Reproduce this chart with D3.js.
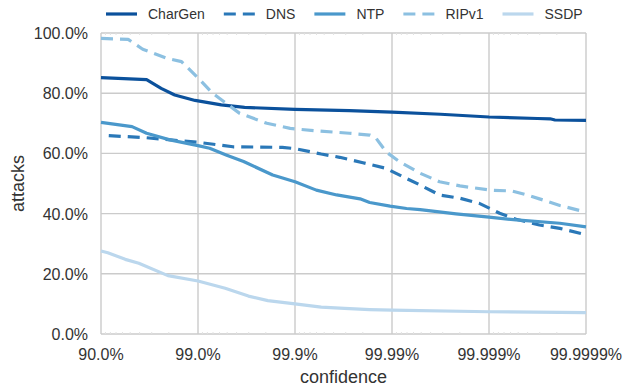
<!DOCTYPE html>
<html>
<head>
<meta charset="utf-8">
<script src="https://cdn.jsdelivr.net/npm/d3@7"></script>
<style>
  body { margin: 0; background: #fff; }
  text { font-family: "Liberation Sans", Arial, sans-serif; fill: #333; }
</style>
</head>
<body>
<svg id="chart" width="641" height="388"></svg>
<script>
// x is counted in "nines": 1 = 90.0%, 2 = 99.0%, ... 6 = 99.9999%
var tickLabels = ['90.0%', '99.0%', '99.9%', '99.99%', '99.999%', '99.9999%']
var tickNines = [1, 2, 3, 4, 5, 6]

var charGenX = [1, 1.47, 1.62, 1.76, 1.97, 2.24, 2.48, 3, 3.56, 4, 4.5, 5, 5.5, 5.63, 5.68, 6]
var charGenY = [85.2, 84.5, 81.6, 79.4, 77.6, 76.1, 75.3, 74.6, 74.2, 73.7, 73.0, 72.1, 71.6, 71.5, 71.1, 71.0]

var dnsX = [1.08, 1.47, 2.0, 2.36, 2.87, 3.0, 3.27, 3.46, 3.7, 3.94, 4.11, 4.29, 4.49, 4.7, 4.9, 5.01, 5.11, 5.28, 5.52, 5.73, 6]
var dnsY = [65.9, 65.2, 63.7, 62.2, 62.0, 61.6, 59.8, 58.7, 56.9, 55.0, 52.3, 49.5, 46.2, 45.1, 43.4, 41.7, 40.1, 38.1, 36.2, 35.1, 33.0]

var ntpX = [1, 1.32, 1.47, 1.71, 2.0, 2.12, 2.29, 2.47, 2.77, 3.0, 3.22, 3.43, 3.67, 3.77, 3.98, 4.15, 4.29, 4.66, 5.0, 5.28, 5.73, 6]
var ntpY = [70.3, 68.9, 66.7, 64.5, 62.6, 61.7, 59.5, 57.3, 52.8, 50.6, 47.8, 46.2, 44.9, 43.7, 42.5, 41.7, 41.3, 39.9, 38.8, 37.9, 36.8, 35.6]

var ripX = [1, 1.28, 1.43, 1.68, 1.83, 2.02, 2.15, 2.43, 2.71, 2.95, 3.22, 3.56, 3.77, 3.83, 3.94, 4.08, 4.29, 4.49, 4.7, 5.01, 5.24, 5.39, 5.52, 5.73, 6]
var ripY = [98.2, 97.9, 94.6, 91.6, 90.5, 84.4, 80.0, 73.3, 70.0, 68.3, 67.5, 66.7, 66.1, 65.3, 60.5, 57.2, 53.4, 50.6, 49.2, 47.8, 47.5, 46.2, 44.9, 42.7, 40.5]

var ssdpX = [1, 1.07, 1.25, 1.39, 1.69, 2.0, 2.28, 2.52, 2.72, 3.0, 3.27, 3.51, 3.77, 4.0, 5.0, 6]
var ssdpY = [27.6, 27.0, 24.8, 23.5, 19.4, 17.6, 15.2, 12.6, 11.1, 10.0, 8.9, 8.5, 8.1, 7.9, 7.4, 7.1]

var yTicks = [0, 20, 40, 60, 80, 100]

var series = [
    { name: 'CharGen', x: charGenX, y: charGenY, color: '#0b519c', dash: null },
    { name: 'DNS', x: dnsX, y: dnsY, color: '#2a78b8', dash: '12,7' },
    { name: 'NTP', x: ntpX, y: ntpY, color: '#4a98cb', dash: null },
    { name: 'RIPv1', x: ripX, y: ripY, color: '#8cc0e1', dash: '12,7' },
    { name: 'SSDP', x: ssdpX, y: ssdpY, color: '#bbd7ed', dash: null }
]

var svg = d3.select('#chart')
var pLeft = 101, pRight = 586, pTop = 33, pBottom = 334
var grid = '#cbcbcb'

var x = d3.scaleLinear().domain([1, 6]).range([pLeft, pRight])
var y = d3.scaleLinear().domain([0, 100]).range([pBottom, pTop])

var g = svg.append('g')

// gridlines
g.selectAll('line.vg').data(tickNines).enter().append('line')
    .attr('x1', d => x(d)).attr('x2', d => x(d))
    .attr('y1', pTop).attr('y2', pBottom)
    .style('stroke', grid).style('stroke-width', 1.4)
g.selectAll('line.hg').data(yTicks).enter().append('line')
    .attr('x1', pLeft).attr('x2', pRight)
    .attr('y1', d => y(d)).attr('y2', d => y(d))
    .style('stroke', grid).style('stroke-width', 1.4)

// faint minor ticks on top and bottom (log spacing inside each decade)
var minor = []
for (var i = 1; i < 6; i++) {
    for (var k = 2; k <= 9; k++) minor.push(i + 1 - Math.log10(k))
}
g.selectAll('line.mb').data(minor).enter().append('line')
    .attr('x1', d => x(d)).attr('x2', d => x(d))
    .attr('y1', pBottom).attr('y2', pBottom - 2)
    .style('stroke', '#e2e2e2').style('stroke-width', 1)
g.selectAll('line.mt').data(minor).enter().append('line')
    .attr('x1', d => x(d)).attr('x2', d => x(d))
    .attr('y1', pTop).attr('y2', pTop + 2)
    .style('stroke', '#e2e2e2').style('stroke-width', 1)

// tick labels
g.selectAll('text.yl').data(yTicks).enter().append('text')
    .attr('x', pLeft - 13).attr('y', d => y(d) + 6)
    .attr('text-anchor', 'end')
    .style('font-size', '16px')
    .text(d => d.toFixed(1) + '%')
g.selectAll('text.xl').data(tickNines).enter().append('text')
    .attr('x', d => x(d)).attr('y', pBottom + 26)
    .attr('text-anchor', 'middle')
    .style('font-size', '16px')
    .text((d, i) => tickLabels[i])

// axis titles
svg.append('text')
    .attr('x', (pLeft + pRight) / 2).attr('y', 383)
    .attr('text-anchor', 'middle')
    .style('font-size', '18px')
    .text('confidence')
svg.append('text')
    .attr('transform', 'translate(24,' + ((pTop + pBottom) / 2) + ') rotate(-90)')
    .attr('text-anchor', 'middle')
    .style('font-size', '18px')
    .text('attacks')

// lines
var line = d3.line()
    .x(d => x(d[0]))
    .y(d => y(d[1]))

series.forEach(function(s) {
    var pts = s.x.map((v, i) => [v, s.y[i]])
    g.append('path')
        .datum(pts)
        .attr('d', line)
        .style('fill', 'none')
        .style('stroke', s.color)
        .style('stroke-width', 3.2)
        .style('stroke-linejoin', 'round')
        .style('stroke-dasharray', s.dash)
})

// legend
var lx = 106, ly = 14
series.forEach(function(s) {
    svg.append('line')
        .attr('x1', lx).attr('x2', lx + 31)
        .attr('y1', ly).attr('y2', ly)
        .style('stroke', s.color)
        .style('stroke-width', 3.2)
        .style('stroke-dasharray', s.dash)
    var t = svg.append('text')
        .attr('x', lx + 42).attr('y', ly + 5)
        .style('font-size', '14px')
        .text(s.name)
    lx = lx + 42 + t.node().getComputedTextLength() + 19
})
</script>
</body>
</html>
